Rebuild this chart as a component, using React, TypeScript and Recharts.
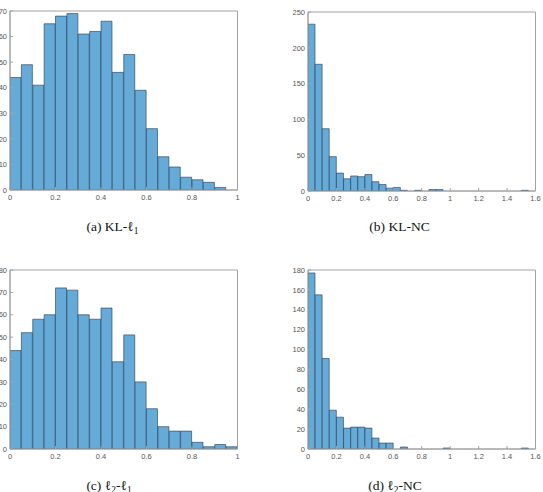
import type { ReactNode } from 'react';
import { BarChart, Bar, XAxis, YAxis, ReferenceArea } from 'recharts';

const BIN_WIDTH = 0.05;

// histogram counts, one per 0.05-wide bin starting at 0
const klL1Counts = [44, 49, 41, 65, 68, 69, 61, 62, 66, 46, 53, 39, 24, 13, 9, 5, 4, 3, 1, 0];
const klNcCounts = [
  233, 177, 87, 48, 25, 17, 21, 20, 23, 13, 9, 4, 5, 1, 0, 1,
  0, 2, 2, 0, 0, 0, 0, 0, 0, 0, 0, 0, 0, 0, 1, 0,
];
const l2L1Counts = [44, 52, 58, 60, 72, 71, 60, 58, 63, 39, 51, 30, 18, 10, 8, 8, 3, 1, 2, 1];
const l2NcCounts = [
  177, 155, 91, 39, 32, 21, 22, 22, 21, 11, 6, 6, 0, 2, 0, 0,
  0, 0, 0, 1, 0, 0, 0, 0, 0, 0, 0, 0, 0, 0, 1, 0,
];

const xTicksUnit = [0, 0.2, 0.4, 0.6, 0.8, 1];
const xTicksWide = [0, 0.2, 0.4, 0.6, 0.8, 1, 1.2, 1.4, 1.6];
const yTicksKlL1 = [0, 10, 20, 30, 40, 50, 60, 70];
const yTicksKlNc = [0, 50, 100, 150, 200, 250];
const yTicksL2L1 = [0, 10, 20, 30, 40, 50, 60, 70, 80];
const yTicksL2Nc = [0, 20, 40, 60, 80, 100, 120, 140, 160, 180];

const PLOT_W = 227.5;
const PLOT_H = 179;
const Y_AXIS_W = 30;
const X_AXIS_H = 20;
const PAD_TOP = 4;
const PAD_RIGHT = 10;
const TICK_LEN = 3;

const AXIS_COLOR = '#a2a2a2';
const LABEL_FONT = 'Liberation Sans, Arial, sans-serif';

// inward MATLAB-style tick marks, drawn at the coordinates the axis hands over
type TickProps = { x: number; y: number; payload: { value: number } };

const BottomTick = ({ x, y, payload }: TickProps) => (
  <g>
    <line x1={x} y1={y} x2={x} y2={y - TICK_LEN} stroke={AXIS_COLOR} />
    <text x={x} y={y + 9.5} textAnchor="middle" fontSize={7.5} fill="#555" fontFamily={LABEL_FONT}>
      {payload.value}
    </text>
  </g>
);
const LeftTick = ({ x, y, payload }: TickProps) => (
  <g>
    <line x1={x} y1={y} x2={x + TICK_LEN} y2={y} stroke={AXIS_COLOR} />
    <text x={x - 3} y={y + 2.7} textAnchor="end" fontSize={7.5} fill="#555" fontFamily={LABEL_FONT}>
      {payload.value}
    </text>
  </g>
);
const TopTick = ({ x, y }: TickProps) => <line x1={x} y1={y} x2={x} y2={y + TICK_LEN} stroke={AXIS_COLOR} />;
const RightTick = ({ x, y }: TickProps) => <line x1={x} y1={y} x2={x - TICK_LEN} y2={y} stroke={AXIS_COLOR} />;

interface HistProps {
  counts: number[];
  xMax: number;
  xTicks: number[];
  yMax: number;
  yTicks: number[];
  left: number;
  top: number;
}

function Histogram({ counts, xMax, xTicks, yMax, yTicks, left, top }: HistProps) {
  // bars sit on bin centres so each one spans its full bin on the number axis
  const data = counts.map((count, i) => ({ x: (i + 0.5) * BIN_WIDTH, count }));
  const axisCommon = {
    axisLine: { stroke: AXIS_COLOR, strokeWidth: 1 },
    tickSize: 0,
    tickMargin: 0,
    tickLine: false,
    interval: 0 as const,
    allowDataOverflow: true,
  };
  return (
    <div style={{ position: 'absolute', left: left - Y_AXIS_W, top: top - PAD_TOP }}>
      <BarChart
        width={Y_AXIS_W + PLOT_W + PAD_RIGHT}
        height={PAD_TOP + PLOT_H + X_AXIS_H}
        data={data}
        margin={{ top: PAD_TOP, right: PAD_RIGHT, bottom: 0, left: 0 }}
        barCategoryGap={0}
        barGap={0}
      >
        <XAxis
          {...axisCommon}
          xAxisId="bottom"
          dataKey="x"
          type="number"
          domain={[0, xMax]}
          ticks={xTicks}
          height={X_AXIS_H}
          tick={BottomTick}
        />
        <XAxis
          {...axisCommon}
          xAxisId="top"
          dataKey="x"
          type="number"
          orientation="top"
          domain={[0, xMax]}
          ticks={xTicks}
          height={0}
          tick={TopTick}
        />
        <YAxis
          {...axisCommon}
          yAxisId="left"
          domain={[0, yMax]}
          ticks={yTicks}
          width={Y_AXIS_W}
          tick={LeftTick}
        />
        <YAxis
          {...axisCommon}
          yAxisId="right"
          orientation="right"
          domain={[0, yMax]}
          ticks={yTicks}
          width={0}
          tick={RightTick}
        />
        {/* axes box */}
        <ReferenceArea
          xAxisId="bottom"
          yAxisId="left"
          x1={0}
          x2={xMax}
          y1={0}
          y2={yMax}
          fill="none"
          fillOpacity={0}
          stroke={AXIS_COLOR}
          strokeWidth={1}
          ifOverflow="visible"
        />
        <Bar
          xAxisId="bottom"
          yAxisId="left"
          dataKey="count"
          fill="#66aad7"
          stroke="#1f3b57"
          strokeWidth={0.6}
          isAnimationActive={false}
        />
        {/* invisible twin so the top and right frame axes get drawn */}
        <Bar
          xAxisId="top"
          yAxisId="right"
          dataKey="count"
          fill="none"
          stroke="none"
          isAnimationActive={false}
        />
      </BarChart>
    </div>
  );
}

function Caption({ cx, cy, children }: { cx: number; cy: number; children: ReactNode }) {
  return (
    <div
      style={{
        position: 'absolute',
        left: cx - 80,
        top: cy - 9,
        width: 160,
        lineHeight: '18px',
        textAlign: 'center',
        fontFamily: 'Liberation Serif, serif',
        fontSize: 13.5,
        color: '#111',
        whiteSpace: 'nowrap',
      }}
    >
      {children}
    </div>
  );
}

const Sub = ({ children }: { children: ReactNode }) => (
  <span style={{ fontSize: '0.7em', verticalAlign: '-0.3em' }}>{children}</span>
);

export default function App() {
  return (
    <div style={{ position: 'absolute', left: 0, top: 0, width: 543, height: 492, overflow: 'hidden', background: '#fff' }}>
      <Histogram counts={klL1Counts} xMax={1} xTicks={xTicksUnit} yMax={70} yTicks={yTicksKlL1} left={9.5} top={10.5} />
      <Histogram counts={klNcCounts} xMax={1.6} xTicks={xTicksWide} yMax={250} yTicks={yTicksKlNc} left={307.5} top={11.5} />
      <Histogram counts={l2L1Counts} xMax={1} xTicks={xTicksUnit} yMax={80} yTicks={yTicksL2L1} left={9.5} top={269.5} />
      <Histogram counts={l2NcCounts} xMax={1.6} xTicks={xTicksWide} yMax={180} yTicks={yTicksL2Nc} left={307.5} top={269.5} />

      <Caption cx={112.5} cy={227}>
        (a) KL-ℓ<Sub>1</Sub>
      </Caption>
      <Caption cx={399.5} cy={227}>
        (b) KL-NC
      </Caption>
      <Caption cx={109} cy={486}>
        (c) ℓ<Sub>2</Sub>-ℓ<Sub>1</Sub>
      </Caption>
      <Caption cx={395} cy={486}>
        (d) ℓ<Sub>2</Sub>-NC
      </Caption>
    </div>
  );
}
